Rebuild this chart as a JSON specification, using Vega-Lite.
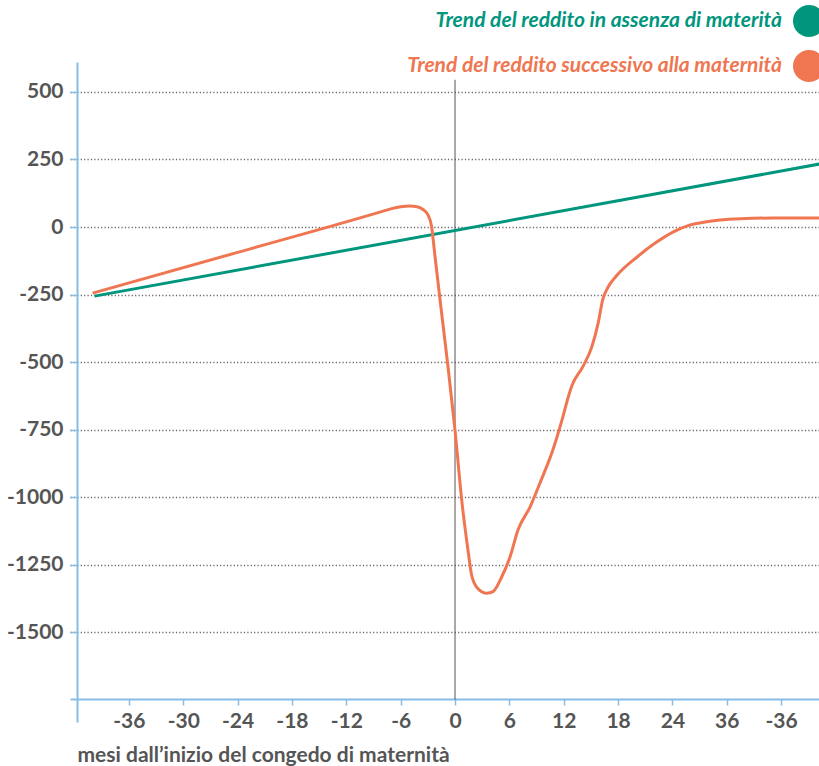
{
  "$schema": "https://vega.github.io/schema/vega-lite/v6.json",
  "width": 749,
  "height": 660,
  "autosize": {"type": "none"},
  "padding": {"left": 70, "top": 62, "right": 0, "bottom": 44},
  "background": "white",
  "config": {
    "view": {"stroke": null},
    "font": "Lato",
    "axis": {"labelFont": "Lato", "titleFont": "Lato"}
  },
  "datasets": {
    "lines": [
      {"mese": -39.8, "reddito": -256, "serie": "Trend del reddito in assenza di materità"},
      {"mese": 40.2, "reddito": 233, "serie": "Trend del reddito in assenza di materità"},
      {"mese": -40, "reddito": -245, "serie": "Trend del reddito successivo alla maternità"},
      {"mese": -24, "reddito": -94, "serie": "Trend del reddito successivo alla maternità"},
      {"mese": -8.3, "reddito": 55, "serie": "Trend del reddito successivo alla maternità"},
      {"mese": -7, "reddito": 68, "serie": "Trend del reddito successivo alla maternità"},
      {"mese": -6, "reddito": 75, "serie": "Trend del reddito successivo alla maternità"},
      {"mese": -5, "reddito": 78, "serie": "Trend del reddito successivo alla maternità"},
      {"mese": -4.2, "reddito": 75, "serie": "Trend del reddito successivo alla maternità"},
      {"mese": -3.5, "reddito": 64, "serie": "Trend del reddito successivo alla maternità"},
      {"mese": -3, "reddito": 46, "serie": "Trend del reddito successivo alla maternità"},
      {"mese": -2.6, "reddito": 5, "serie": "Trend del reddito successivo alla maternità"},
      {"mese": -2.2, "reddito": -111, "serie": "Trend del reddito successivo alla maternità"},
      {"mese": -1.65, "reddito": -270, "serie": "Trend del reddito successivo alla maternità"},
      {"mese": -0.8, "reddito": -510, "serie": "Trend del reddito successivo alla maternità"},
      {"mese": 0, "reddito": -752, "serie": "Trend del reddito successivo alla maternità"},
      {"mese": 0.74, "reddito": -1011, "serie": "Trend del reddito successivo alla maternità"},
      {"mese": 1.43, "reddito": -1196, "serie": "Trend del reddito successivo alla maternità"},
      {"mese": 1.84, "reddito": -1290, "serie": "Trend del reddito successivo alla maternità"},
      {"mese": 2.55, "reddito": -1340, "serie": "Trend del reddito successivo alla maternità"},
      {"mese": 3.5, "reddito": -1356, "serie": "Trend del reddito successivo alla maternità"},
      {"mese": 4.2, "reddito": -1350, "serie": "Trend del reddito successivo alla maternità"},
      {"mese": 5.15, "reddito": -1296, "serie": "Trend del reddito successivo alla maternità"},
      {"mese": 6.07, "reddito": -1222, "serie": "Trend del reddito successivo alla maternità"},
      {"mese": 6.95, "reddito": -1122, "serie": "Trend del reddito successivo alla maternità"},
      {"mese": 8.28, "reddito": -1037, "serie": "Trend del reddito successivo alla maternità"},
      {"mese": 9.38, "reddito": -948, "serie": "Trend del reddito successivo alla maternità"},
      {"mese": 10.8, "reddito": -826, "serie": "Trend del reddito successivo alla maternità"},
      {"mese": 11.9, "reddito": -704, "serie": "Trend del reddito successivo alla maternità"},
      {"mese": 12.5, "reddito": -630, "serie": "Trend del reddito successivo alla maternità"},
      {"mese": 12.9, "reddito": -588, "serie": "Trend del reddito successivo alla maternità"},
      {"mese": 14.1, "reddito": -518, "serie": "Trend del reddito successivo alla maternità"},
      {"mese": 15.1, "reddito": -444, "serie": "Trend del reddito successivo alla maternità"},
      {"mese": 15.8, "reddito": -356, "serie": "Trend del reddito successivo alla maternità"},
      {"mese": 16.3, "reddito": -270, "serie": "Trend del reddito successivo alla maternità"},
      {"mese": 16.9, "reddito": -222, "serie": "Trend del reddito successivo alla maternità"},
      {"mese": 17.9, "reddito": -178, "serie": "Trend del reddito successivo alla maternità"},
      {"mese": 20.1, "reddito": -111, "serie": "Trend del reddito successivo alla maternità"},
      {"mese": 22.3, "reddito": -55, "serie": "Trend del reddito successivo alla maternità"},
      {"mese": 24.1, "reddito": -18, "serie": "Trend del reddito successivo alla maternità"},
      {"mese": 25.9, "reddito": 7, "serie": "Trend del reddito successivo alla maternità"},
      {"mese": 27, "reddito": 15, "serie": "Trend del reddito successivo alla maternità"},
      {"mese": 29, "reddito": 25, "serie": "Trend del reddito successivo alla maternità"},
      {"mese": 31.5, "reddito": 31, "serie": "Trend del reddito successivo alla maternità"},
      {"mese": 35, "reddito": 33, "serie": "Trend del reddito successivo alla maternità"},
      {"mese": 40.2, "reddito": 33, "serie": "Trend del reddito successivo alla maternità"}
    ],
    "zero": [{"mese": 0}]
  },
  "layer": [
    {
      "data": {"name": "zero"},
      "mark": {"type": "rule", "color": "#555555", "strokeWidth": 1},
      "encoding": {
        "x": {"field": "mese", "type": "quantitative"},
        "y": {"datum": 545},
        "y2": {"datum": -1750}
      }
    },
    {
      "data": {"name": "lines"},
      "mark": {"type": "line", "strokeWidth": 3, "interpolate": "monotone"},
      "encoding": {
        "x": {
          "field": "mese",
          "type": "quantitative",
          "scale": {"domain": [-42.5, 40.18], "nice": false, "zero": false},
          "axis": {
            "values": [-36, -30, -24, -18, -12, -6, 0, 6, 12, 18, 24, 30, 36],
            "labelExpr": "datum.value == 30 ? '36' : datum.value == 36 ? '-36' : '' + datum.value",
            "grid": false,
            "offset": -23,
            "domainColor": "#86bde6",
            "domainWidth": 2,
            "tickColor": "#86bde6",
            "tickWidth": 1.5,
            "tickSize": 6,
            "labelPadding": 5,
            "labelFontSize": 21,
            "labelFontWeight": "bold",
            "labelColor": "#555555",
            "title": "mesi dall’inizio del congedo di maternità",
            "titleFontSize": 21,
            "titleFontWeight": "bold",
            "titleColor": "#555555",
            "titleAlign": "left",
            "titleAnchor": "start",
            "titleX": 7,
            "titleY": 62,
            "titleBaseline": "alphabetic"
          }
        },
        "y": {
          "field": "reddito",
          "type": "quantitative",
          "scale": {"domain": [-1833, 611], "nice": false, "zero": false},
          "axis": {
            "values": [-1500, -1250, -1000, -750, -500, -250, 0, 250, 500],
            "labelExpr": "'' + datum.value",
            "offset": -7,
            "domainColor": "#86bde6",
            "domainWidth": 2,
            "tickColor": "#86bde6",
            "tickWidth": 1.5,
            "tickSize": 7,
            "labelPadding": 7,
            "labelFontSize": 21,
            "labelFontWeight": "bold",
            "labelColor": "#555555",
            "grid": true,
            "gridColor": "#666666",
            "gridDash": [1.2, 2.2],
            "gridWidth": 1.5,
            "title": null
          }
        },
        "color": {
          "field": "serie",
          "type": "nominal",
          "scale": {
            "domain": ["Trend del reddito in assenza di materità", "Trend del reddito successivo alla maternità"],
            "range": ["#00967e", "#ef7650"]
          },
          "legend": {
            "orient": "none",
            "legendX": 723,
            "legendY": -57,
            "title": null,
            "padding": 0,
            "symbolType": "circle",
            "symbolSize": 1024,
            "symbolStrokeWidth": 0,
            "rowPadding": 13,
            "labelAlign": "right",
            "labelOffset": -43,
            "labelLimit": 0,
            "labelFont": "Lato",
            "labelFontSize": 21,
            "labelFontWeight": "bold",
            "labelFontStyle": "italic",
            "encode": {
              "symbols": {"update": {"fill": {"scale": "color", "field": "value"}, "fillOpacity": {"value": 1}, "strokeWidth": {"value": 0}}},
              "labels": {"update": {"fill": {"scale": "color", "field": "value"}}}
            }
          }
        }
      }
    }
  ]
}
